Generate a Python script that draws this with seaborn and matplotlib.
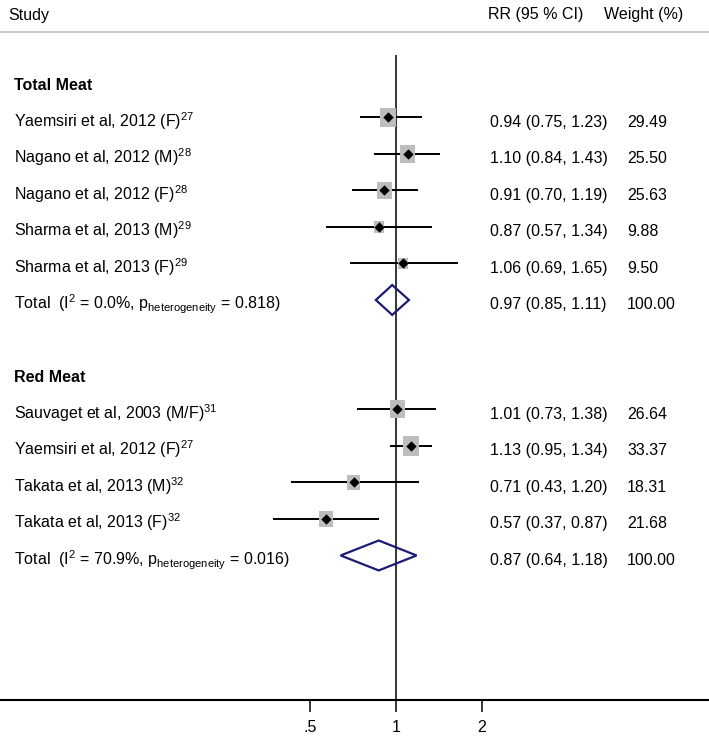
import numpy as np
import pandas as pd
import seaborn as sns
import matplotlib.pyplot as plt
import matplotlib.transforms as mtransforms

# Dados do forest plot
grupos = ["Total Meat", "Red Meat"]
estudos = ["Yaemsiri et al, 2012 (F)", "Nagano et al, 2012 (M)", "Nagano et al, 2012 (F)",
           "Sharma et al, 2013 (M)", "Sharma et al, 2013 (F)",
           "Sauvaget et al, 2003 (M/F)", "Yaemsiri et al, 2012 (F)",
           "Takata et al, 2013 (M)", "Takata et al, 2013 (F)"]
refs = ["27", "28", "28", "29", "29", "31", "27", "32", "32"]
grupo_estudo = ["Total Meat"] * 5 + ["Red Meat"] * 4
rr = [0.94, 1.10, 0.91, 0.87, 1.06, 1.01, 1.13, 0.71, 0.57]
ic_inf = [0.75, 0.84, 0.70, 0.57, 0.69, 0.73, 0.95, 0.43, 0.37]
ic_sup = [1.23, 1.43, 1.19, 1.34, 1.65, 1.38, 1.34, 1.20, 0.87]
peso = [29.49, 25.50, 25.63, 9.88, 9.50, 26.64, 33.37, 18.31, 21.68]

rr_total = [0.97, 0.87]
inf_total = [0.85, 0.64]
sup_total = [1.11, 1.18]
i2 = ["0.0%", "70.9%"]
p_het = ["0.818", "0.016"]
peso_total = ["100.00", "100.00"]

ticks = [0.5, 1, 2]
tick_labels = [".5", "1", "2"]

plt.rcParams["font.family"] = ["Liberation Sans", "DejaVu Sans"]
plt.rcParams["mathtext.fontset"] = "custom"
plt.rcParams["mathtext.rm"] = "Liberation Sans"
plt.rcParams["mathtext.it"] = "Liberation Sans:italic"
plt.rcParams["mathtext.bf"] = "Liberation Sans:bold"

# Montando as linhas (cabecalho, estudos, total, linha em branco)
linhas = []
linha = 0
for g_i, g in enumerate(grupos):
    linhas.append(("header", g_i, linha))
    linha += 1
    for e_i, ge in enumerate(grupo_estudo):
        if ge == g:
            linhas.append(("study", e_i, linha))
            linha += 1
    linhas.append(("total", g_i, linha))
    linha += 2

df = pd.DataFrame({"estudo": estudos, "rr": rr, "inf": ic_inf, "sup": ic_sup, "peso": peso})
df["row"] = [r for t, i, r in linhas if t == "study"]
tot_rows = [r for t, i, r in linhas if t == "total"]

fig = plt.figure(figsize=(7.09, 7.40), dpi=100)
axes = fig.add_axes([0, 40 / 740, 1, 668 / 740])
axes.set_xscale("log", base=2)
axes.set_xlim(2 ** (-396 / 86), 2 ** (313 / 86))
axes.set_ylim(16.96, -1.342)

# linha de referencia em 1
axes.vlines(1, -0.71, 16.96, color="black", lw=1.1, zorder=1)

# intervalos de confianca
axes.hlines(df["row"], df["inf"], df["sup"], color="black", lw=1.4, zorder=2)

# quadrados com tamanho pelo peso
ret = [(-1, -1.2), (1, -1.2), (1, 1.2), (-1, 1.2), (-1, -1.2)]
sns.scatterplot(ax=axes, data=df, x="rr", y="row", size="peso", sizes=(70, 205),
                size_norm=(9.5, 33.37), marker=ret, color="#bdbdbd", linewidth=0,
                legend=False, zorder=3)
sns.scatterplot(ax=axes, data=df, x="rr", y="row", marker="D", s=28, color="black",
                linewidth=0, legend=False, zorder=4)

# diamantes dos totais
for k in range(len(grupos)):
    y = tot_rows[k]
    h = 0.41
    axes.fill([inf_total[k], rr_total[k], sup_total[k], rr_total[k], inf_total[k]],
              [y, y - h, y, y + h, y], facecolor="none", edgecolor="#1b1b73", lw=1.6, zorder=3)

# textos
trans = mtransforms.blended_transform_factory(axes.transAxes, axes.transData)
fs = 11.5
off = 0.26
x_rot, x_rr, x_peso = 14 / 709, 490 / 709, 627 / 709
for t, i, r in linhas:
    if t == "header":
        axes.text(x_rot, r + off, grupos[i], transform=trans, fontsize=fs, fontweight="bold")
    elif t == "study":
        axes.text(x_rot, r + off, estudos[i] + r"$^{%s}$" % refs[i], transform=trans, fontsize=fs)
        axes.text(x_rr, r + off, f"{rr[i]:.2f} ({ic_inf[i]:.2f}, {ic_sup[i]:.2f})",
                  transform=trans, fontsize=fs)
        axes.text(x_peso, r + off, f"{peso[i]:.2f}", transform=trans, fontsize=fs)
    else:
        rotulo = "Total  (I$^2$ = " + i2[i] + r", p$_\mathrm{heterogeneity}$ = " + p_het[i] + ")"
        axes.text(x_rot, r + off, rotulo, transform=trans, fontsize=fs)
        axes.text(x_rr, r + off, f"{rr_total[i]:.2f} ({inf_total[i]:.2f}, {sup_total[i]:.2f})",
                  transform=trans, fontsize=fs)
        axes.text(x_peso, r + off, peso_total[i], transform=trans, fontsize=fs)

# cabecalho
axes.text(8 / 709, -1.66, "Study", transform=trans, fontsize=fs)
axes.text(488 / 709, -1.71, "RR (95 % CI)", transform=trans, fontsize=fs)
axes.text(604 / 709, -1.71, "Weight (%)", transform=trans, fontsize=fs)

# eixos
for s in ["left", "right"]:
    axes.spines[s].set_visible(False)
axes.spines["bottom"].set_linewidth(1.5)
axes.spines["top"].set_color("#c4c4c4")
axes.spines["top"].set_linewidth(1.2)
axes.set_yticks([])
axes.set_xticks(ticks)
axes.set_xticklabels(tick_labels)
axes.minorticks_off()
axes.tick_params(axis="x", length=8.6, width=1.1, pad=5.5, labelsize=fs)
axes.set_xlabel("")
axes.set_ylabel("")

plt.savefig("out.png", dpi=100)
